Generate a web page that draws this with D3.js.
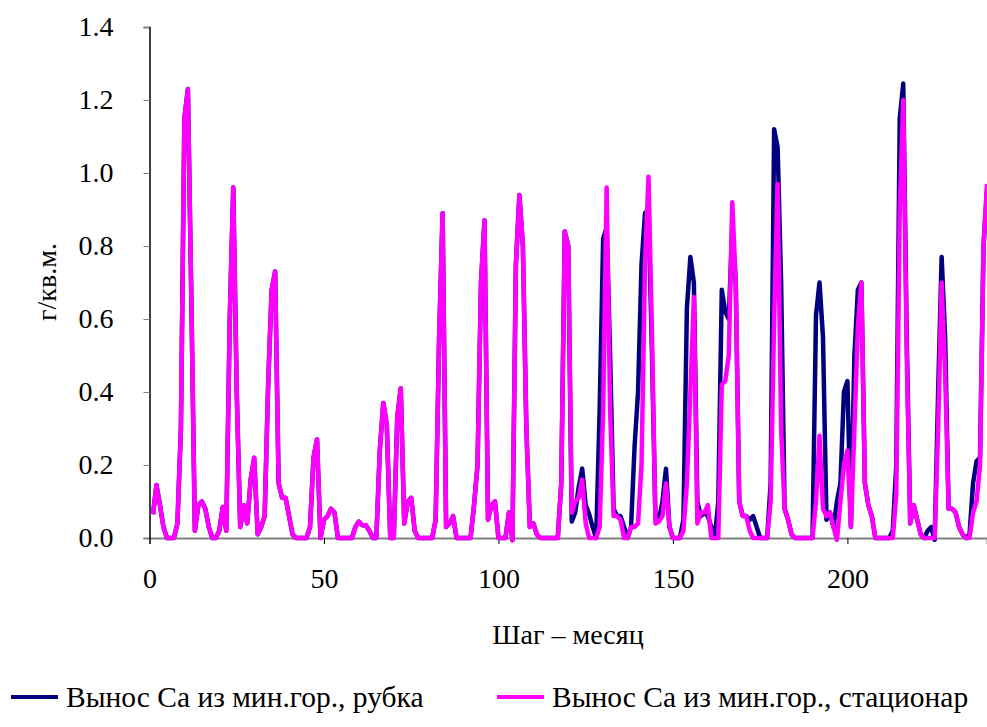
<!DOCTYPE html>
<html><head><meta charset="utf-8">
<script src="https://cdn.jsdelivr.net/npm/d3@7"></script>
<style>body{margin:0;background:#fff}svg{display:block}svg text{font-family:"Liberation Serif","DejaVu Serif",serif !important;fill:#000}</style>
</head><body><svg id="c" width="987" height="727" style="font-family:'Liberation Serif',serif"></svg>
<script>
const months = d3.range(1, 241);
const seriesNames = ["Вынос Са из мин.гор., рубка", "Вынос Са из мин.гор., стационар"];
const seriesColors = ["#000080", "#FF00FF"];
const yTicks = [0, 0.2, 0.4, 0.6, 0.8, 1.0, 1.2, 1.4];
const xTicks = [0, 50, 100, 150, 200];
const xTitle = "Шаг – месяц";
const yTitle = "г/кв.м.";

// стационар (pink)
const stationar = [
0.065,0.145,0.09,0.03,0,0,0,0.04,0.3,1.15,
1.23,0.65,0.02,0.09,0.1,0.08,0.03,0,0,0.02,
0.085,0.02,0.6,0.96,0.4,0.03,0.09,0.04,0.16,0.22,
0.01,0.03,0.06,0.42,0.68,0.73,0.15,0.11,0.11,0.06,
0.01,0,0,0,0,0.03,0.22,0.27,0,0.05,
0.06,0.08,0.07,0,0,0,0,0,0.03,0.045,
0.035,0.035,0.02,0,0,0.24,0.37,0.31,0,0,
0.33,0.41,0.04,0.1,0.11,0.02,0,0,0,0,
0,0.05,0.55,0.89,0.03,0.04,0.06,0,0,0,
0,0,0.09,0.2,0.7,0.87,0.05,0.09,0.1,0,
0,0,0.07,-0.006,0.75,0.94,0.8,0.3,0.03,0.04,
0.01,0,0,0,0,0,0,0.15,0.84,0.8,
0.07,0.1,0.11,0.16,0.04,0,0,0,0.03,0.35,
0.96,0.35,0.06,0.06,0.05,0,0,0.03,0.03,0.04,
0.2,0.75,0.99,0.55,0.04,0.045,0.06,0.15,0.03,0,
0,0,0.02,0.15,0.4,0.66,0.04,0.07,0.07,0.09,
0,0,0,0.42,0.43,0.5,0.92,0.7,0.1,0.06,
0.06,0.02,0,0,0,0,0,0.1,0.6,0.97,
0.3,0.08,0.05,0.01,0,0,0,0,0,0,
0.1,0.28,0.08,0.06,0.07,0.03,-0.005,0.1,0.2,0.24,
0.03,0.3,0.58,0.7,0.15,0.09,0.06,0,0,0,
0,0,0,0.12,0.9,1.2,0.5,0.04,0.09,0.05,
0.01,0,0,0,0,0.3,0.7,0.45,0.08,0.08,
0.07,0.03,0.01,0,0,0.07,0.1,0.2,0.8,0.97
];
// рубка (navy)
const rubka = [
0.065,0.145,0.09,0.03,0,0,0,0.04,0.3,1.15,
1.23,0.65,0.02,0.09,0.1,0.08,0.03,0,0,0.02,
0.085,0.02,0.6,0.96,0.4,0.03,0.09,0.04,0.16,0.22,
0.01,0.03,0.06,0.42,0.68,0.73,0.15,0.11,0.11,0.06,
0.01,0,0,0,0,0.03,0.22,0.27,0,0.05,
0.06,0.08,0.07,0,0,0,0,0,0.03,0.045,
0.035,0.035,0.02,0,0,0.24,0.37,0.31,0,0,
0.33,0.41,0.04,0.1,0.11,0.02,0,0,0,0,
0,0.05,0.55,0.89,0.03,0.04,0.06,0,0,0,
0,0,0.09,0.2,0.7,0.87,0.05,0.09,0.1,0,
0,0,0.07,-0.006,0.75,0.94,0.8,0.3,0.03,0.04,
0.01,0,0,0,0,0,0,0.15,0.84,0.8,
0.045,0.07,0.14,0.19,0.09,0.065,0.03,0,0.35,0.82,
0.85,0.5,0.08,0.06,0.06,0.03,0,0.03,0.25,0.4,
0.75,0.89,0.9,0.5,0.05,0.05,0.1,0.19,0.03,0,
0,0,0.05,0.63,0.77,0.7,0.1,0.06,0.07,0.06,
0.03,0,0.1,0.68,0.62,0.6,0.85,0.7,0.1,0.06,
0.06,0.05,0.06,0.03,0,0,0,0.15,1.12,1.07,
0.7,0.08,0.05,0.01,0,0,0,0,0,0,
0.61,0.7,0.55,0.05,0.07,0.03,0.1,0.15,0.4,0.43,
0.03,0.5,0.68,0.7,0.15,0.09,0.06,0,0,0,
0,0,0.02,0.2,1.15,1.245,0.55,0.04,0.09,0.05,
0.01,0,0.02,0.03,-0.005,0.4,0.77,0.55,0.08,0.08,
0.07,0.03,0.01,0,0.01,0.15,0.21,0.22,0.8,0.95
];

const svg = d3.select("#c");
const x = d3.scaleLinear().domain([0, 240]).range([149.5, 987]);
const y = d3.scaleLinear().domain([0, 1.4]).range([538, 27]);
const fs = 28;
const fsLeg = 29.5;
const ff = "'Liberation Serif', 'DejaVu Serif', serif";

// X axis (gray line, black ticks)
const gx = svg.append("g").attr("transform", `translate(0,${y(0)})`)
  .call(d3.axisBottom(x).tickValues(xTicks).tickSize(6).tickPadding(24).tickFormat(d3.format("d")));
gx.attr("font-family", null);
gx.select(".domain").attr("stroke", "#808080").attr("stroke-width", 2);
gx.selectAll(".tick line").attr("stroke", "#000");
gx.selectAll("text").attr("font-size", fs).style("font-family", ff);

// Y axis
const gy = svg.append("g").attr("transform", `translate(${x(0)},0)`)
  .call(d3.axisLeft(y).tickValues(yTicks).tickSize(6).tickPadding(30).tickFormat(d3.format(".1f")));
gy.attr("font-family", null);
gy.select(".domain").attr("stroke", "#000").attr("stroke-width", 1.5);
gy.selectAll(".tick line").attr("stroke", "#808080");
gy.selectAll("text").attr("font-size", fs).style("font-family", ff);

const line = d3.line().x((d, i) => x(months[i])).y(d => y(d));
[rubka, stationar].forEach((s, k) => {
  svg.append("path").datum(s).attr("d", line).attr("fill", "none")
    .attr("stroke", seriesColors[k]).attr("stroke-width", 4.5).attr("stroke-linejoin", "round");
});

svg.append("text").attr("x", 568).attr("y", 644).attr("text-anchor", "middle")
  .attr("font-size", fs).style("font-family", ff).text(xTitle);
svg.append("text").attr("transform", "translate(56,282) rotate(-90)").attr("text-anchor", "middle")
  .attr("font-size", fs).style("font-family", ff).text(yTitle);

const legX = [11, 497];
seriesNames.forEach((n, k) => {
  svg.append("line").attr("x1", legX[k]).attr("x2", legX[k] + 47).attr("y1", 697).attr("y2", 697)
    .attr("stroke", seriesColors[k]).attr("stroke-width", 4);
  svg.append("text").attr("x", legX[k] + 55).attr("y", 707).attr("font-size", fsLeg).style("font-family", ff).text(n);
});
</script></body></html>
